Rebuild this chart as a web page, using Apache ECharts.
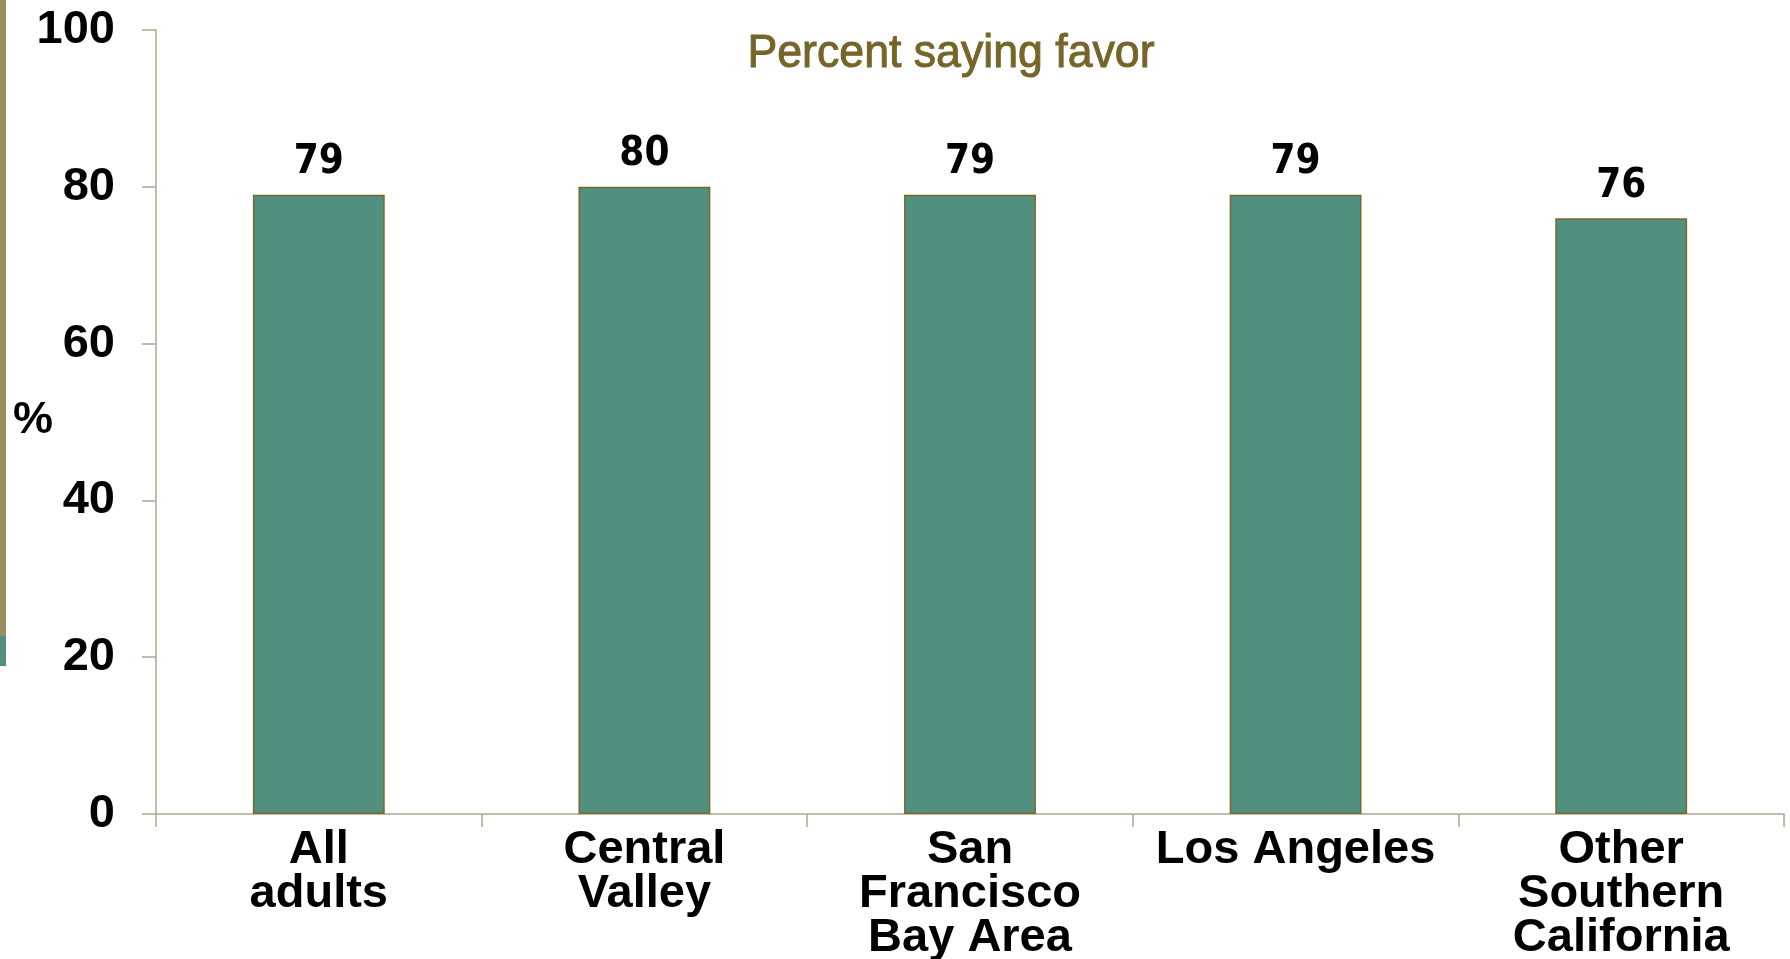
<!DOCTYPE html>
<html>
<head>
<meta charset="utf-8">
<style>
html,body{margin:0;padding:0;background:#fff;}
#chart{width:1790px;height:959px;}
</style>
<script src="https://cdn.jsdelivr.net/npm/echarts@6/dist/echarts.min.js"></script>
</head>
<body>
<div id="chart"></div>
<script>
const categories = ['All\nadults', 'Central\nValley', 'San\nFrancisco\nBay Area', 'Los Angeles', 'Other\nSouthern\nCalifornia'];
const favorValues = [79, 80, 79, 79, 76];
const yTicks = { min: 0, max: 100, interval: 20 };
const titleText = 'Percent saying favor';
const yAxisName = '%';

const chart = echarts.init(document.getElementById('chart'));
const axisColor = '#aea692';
chart.setOption({
  animation: false,
  backgroundColor: '#ffffff',
  graphic: [
    { type: 'rect', left: 0, top: 0, shape: { width: 6, height: 636 }, style: { fill: '#9a8f5f' } },
    { type: 'rect', left: 0, top: 636, shape: { width: 6, height: 30 }, style: { fill: '#518f7e' } },
    { type: 'text', x: 951, y: 31, scaleX: 0.95, style: { text: titleText, textAlign: 'center', textVerticalAlign: 'top', fontFamily: 'Liberation Sans, Arial, sans-serif', fontWeight: 'normal', fontSize: 47, fill: '#756528', stroke: '#756528', lineWidth: 1 } },
    { type: 'text', left: 13, top: 398, style: { text: yAxisName, fontFamily: 'Liberation Sans, Arial, sans-serif', fontWeight: 'bold', fontSize: 45, fill: '#000' } }
  ],
  grid: { left: 156, right: 6, top: 30, bottom: 145, containLabel: false, outerBoundsMode: 'none' },
  xAxis: {
    type: 'category',
    data: categories,
    boundaryGap: true,
    axisLine: { lineStyle: { color: axisColor, width: 1.5 } },
    axisTick: { show: true, length: 13, inside: false, lineStyle: { color: axisColor, width: 1.5 } },
    axisLabel: {
      interval: 0,
      margin: 14,
      fontFamily: 'Liberation Sans, Arial, sans-serif',
      fontWeight: 'bold',
      fontSize: 47,
      lineHeight: 44,
      color: '#000'
    }
  },
  yAxis: {
    type: 'value',
    min: yTicks.min,
    max: yTicks.max,
    interval: yTicks.interval,
    axisLine: { show: true, lineStyle: { color: axisColor, width: 1.5 } },
    axisTick: { show: true, length: 14, lineStyle: { color: axisColor, width: 1.5 } },
    splitLine: { show: false },
    axisLabel: {
      margin: 41,
      fontFamily: 'Liberation Sans, Arial, sans-serif',
      fontWeight: 'bold',
      fontSize: 47,
      color: '#000'
    }
  },
  series: [{
    type: 'bar',
    data: favorValues,
    barWidth: '40.5%',
    itemStyle: { color: '#518f7e', borderColor: '#7a6a2a', borderWidth: 1.5 },
    label: {
      show: true,
      position: 'top',
      distance: 12,
      fontFamily: '"DejaVu Sans Condensed", sans-serif',
      fontWeight: 'bold',
      fontSize: 40,
      color: '#000'
    }
  }]
});
</script>
</body>
</html>
